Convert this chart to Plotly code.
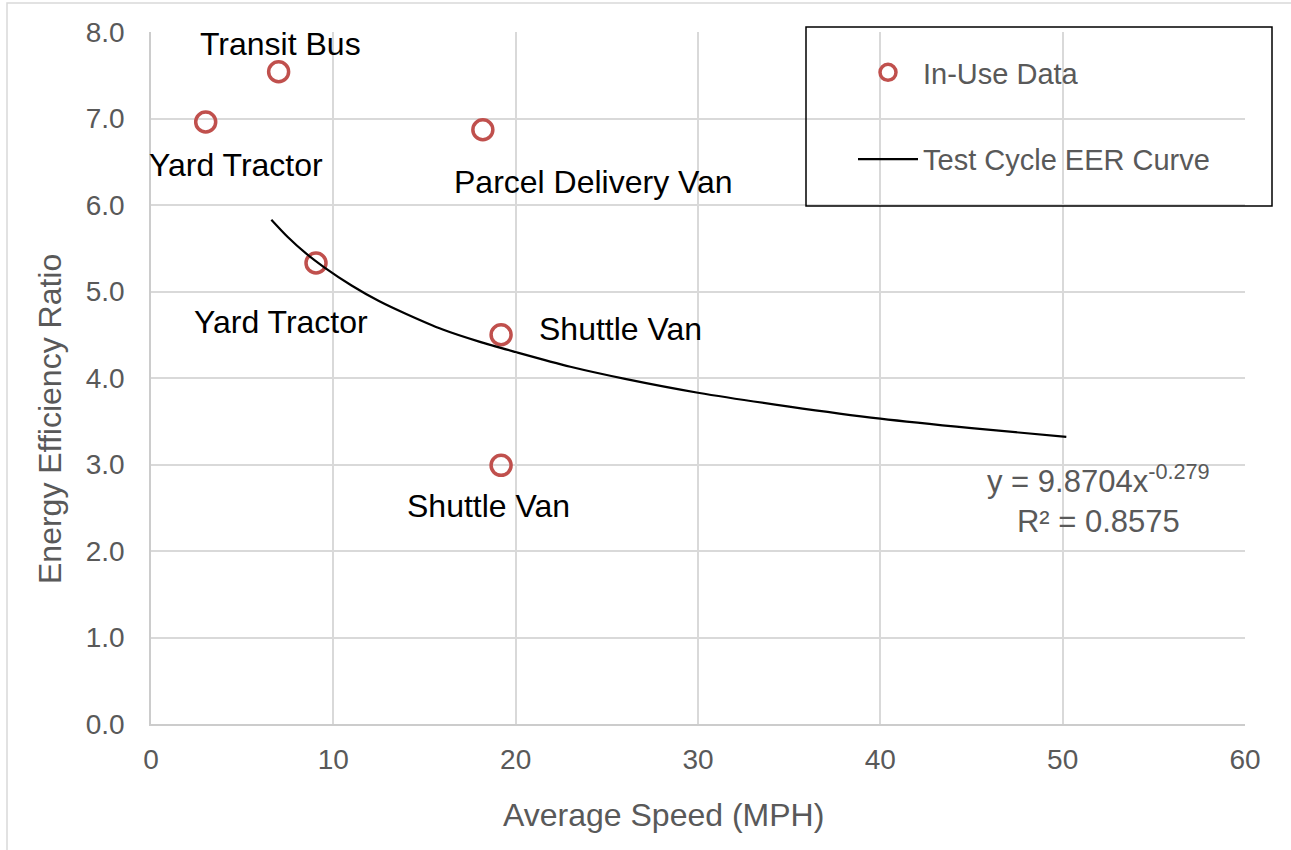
import plotly.graph_objects as go

# In-use data points
speed = [3.0, 7.0, 18.2, 9.05, 19.2, 19.2]
eer = [6.96, 7.54, 6.87, 5.33, 4.50, 2.99]
labels = ["Yard Tractor", "Transit Bus", "Parcel Delivery Van", "Yard Tractor", "Shuttle Van", "Shuttle Van"]
label_x = [4.66, 7.08, 24.25, 7.13, 25.73, 18.49]
label_y = [6.46, 7.86, 6.27, 4.65, 4.57, 2.52]

# Test cycle EER curve
curve_x = [6.6, 7.5, 8.5, 9.5, 11, 12.5, 14, 16, 18, 20, 23, 26, 30, 35, 40, 45, 50.2]
curve_y = [5.83, 5.63, 5.44, 5.28, 5.07, 4.89, 4.74, 4.56, 4.42, 4.30, 4.13, 3.99, 3.83, 3.67, 3.53, 3.42, 3.32]

x_ticks = [0, 10, 20, 30, 40, 50, 60]
y_ticks = [0, 1, 2, 3, 4, 5, 6, 7, 8]

FONT = "Liberation Sans, Arial, sans-serif"
GRAY = "#595959"

fig = go.Figure()
fig.add_trace(go.Scatter(
    x=speed, y=eer, mode="markers", name="In-Use Data", legendgroup="a",
    marker=dict(symbol="circle-open", size=20, color="#C0504D", line=dict(width=3.5, color="#C0504D")),
))
fig.add_trace(go.Scatter(
    x=curve_x, y=curve_y, mode="lines", name="Test Cycle EER Curve", legendgroup="b",
    line=dict(color="black", width=2.2, shape="spline", smoothing=0.8),
))

for lx, ly, t in zip(label_x, label_y, labels):
    fig.add_annotation(x=lx, y=ly, text=t, showarrow=False,
                       font=dict(family=FONT, size=32, color="black"))

fig.add_annotation(x=51.95, y=2.6, text="y = 9.8704x<sup>-0.279</sup><br>R² = 0.8575",
                   showarrow=False, font=dict(family=FONT, size=31, color=GRAY), align="center")

# axis titles (offset from center as in the original)
fig.add_annotation(xref="paper", yref="paper", x=(663 - 151) / 1094, y=(724 - 815) / 692,
                   xanchor="center", yanchor="middle",
                   text="Average Speed (MPH)", showarrow=False,
                   font=dict(family=FONT, size=32, color=GRAY))
fig.add_annotation(xref="paper", yref="paper", x=(50 - 151) / 1094, y=(724 - 419) / 692,
                   xanchor="center", yanchor="middle",
                   text="Energy Efficiency Ratio", showarrow=False, textangle=-90,
                   font=dict(family=FONT, size=32, color=GRAY))

# legend box
fig.add_shape(type="rect", xref="paper", yref="paper",
              x0=(806 - 151) / 1094, x1=(1272 - 151) / 1094,
              y0=(724 - 206) / 692, y1=(724 - 27) / 692,
              line=dict(color="black", width=1.5), fillcolor="rgba(0,0,0,0)")
# outer chart border
fig.add_shape(type="rect", xref="paper", yref="paper",
              x0=(7 - 151) / 1094, x1=(1300 - 151) / 1094,
              y0=(724 - 860) / 692, y1=(724 - 3) / 692,
              line=dict(color="#d9d9d9", width=1.5), fillcolor="rgba(0,0,0,0)", layer="below")

fig.update_layout(
    width=1291, height=850,
    margin=dict(l=151, r=46, t=32, b=126),
    paper_bgcolor="white", plot_bgcolor="white",
    font=dict(family=FONT, color=GRAY),
    showlegend=True,
    legend=dict(x=(853 - 151) / 1094, y=(724 - 47) / 692, xanchor="left", yanchor="top",
                bgcolor="rgba(0,0,0,0)", borderwidth=0,
                font=dict(family=FONT, size=29, color=GRAY),
                tracegroupgap=46, itemwidth=60, traceorder="grouped"),
    xaxis=dict(range=[0, 60], tickvals=x_ticks, ticktext=[str(v) for v in x_ticks],
               showgrid=True, gridcolor="#d9d9d9", gridwidth=1.5,
               showline=True, linecolor="#cccccc", linewidth=1.5, zeroline=False,
               ticks="outside", ticklen=10, tickcolor="rgba(0,0,0,0)",
               tickfont=dict(size=28, color=GRAY)),
    yaxis=dict(range=[0, 8], tickvals=y_ticks, ticktext=[f"{v:.1f}" for v in y_ticks],
               showgrid=True, gridcolor="#d9d9d9", gridwidth=1.5,
               showline=True, linecolor="#cccccc", linewidth=1.5, zeroline=False,
               ticks="outside", ticklen=19, tickcolor="rgba(0,0,0,0)",
               tickfont=dict(size=28, color=GRAY)),
)

fig.write_html("out.html", config={"displayModeBar": False},
               post_script="document.body.style.margin='0';document.body.style.overflow='hidden';")
